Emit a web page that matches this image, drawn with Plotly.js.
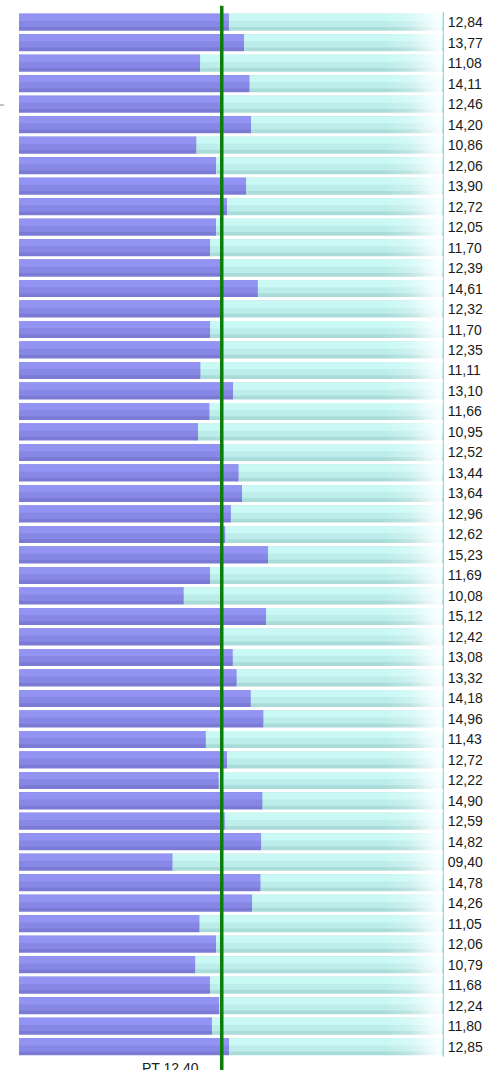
<!DOCTYPE html>
<html>
<head>
<meta charset="utf-8">
<script src="https://cdn.plot.ly/plotly-3.0.1.min.js"></script>
<style>
  html, body { margin: 0; padding: 0; background: #ffffff; }
  #chart { width: 486px; height: 1070px; }
</style>
</head>
<body>
<div id="chart"></div>
<script>
// ---- data ----
const values = [12.84, 13.77, 11.08, 14.11, 12.46, 14.20, 10.86, 12.06, 13.90, 12.72,
                12.05, 11.70, 12.39, 14.61, 12.32, 11.70, 12.35, 11.11, 13.10, 11.66,
                10.95, 12.52, 13.44, 13.64, 12.96, 12.62, 15.23, 11.69, 10.08, 15.12,
                12.42, 13.08, 13.32, 14.18, 14.96, 11.43, 12.72, 12.22, 14.90, 12.59,
                14.82, 9.40, 14.78, 14.26, 11.05, 12.06, 10.79, 11.68, 12.24, 11.80,
                12.85];
const tickLabels = ["12,84", "13,77", "11,08", "14,11", "12,46", "14,20", "10,86", "12,06", "13,90", "12,72",
                    "12,05", "11,70", "12,39", "14,61", "12,32", "11,70", "12,35", "11,11", "13,10", "11,66",
                    "10,95", "12,52", "13,44", "13,64", "12,96", "12,62", "15,23", "11,69", "10,08", "15,12",
                    "12,42", "13,08", "13,32", "14,18", "14,96", "11,43", "12,72", "12,22", "14,90", "12,59",
                    "14,82", "09,40", "14,78", "14,26", "11,05", "12,06", "10,79", "11,68", "12,24", "11,80",
                    "12,85"];
const target = 12.40;
const targetLabel = "PT 12,40";
const scaleMax = 25.93;
const fadeStart = 22.3;

// ---- derived ----
const rows = values.map((_, i) => i);
const remainder = values.map(v => scaleMax - v);

const BW = 0.83;
const traces = [];
function bandBars(x, base, colors) {
  // colors from bottom (darkest, full width) to top (lightest, narrowest)
  const fr = [1.0, 0.78, 0.42];
  colors.forEach((c, k) => {
    traces.push({type: 'bar', orientation: 'h', y: rows, x: x, base: base,
      width: BW * fr[k], offset: -BW / 2, marker: {color: c, line: {width: 0}},
      hoverinfo: 'skip', showlegend: false});
  });
}
bandBars(values, 0, ['#7b7bd6', '#8787e6', '#9393f3']);
bandBars(remainder, values, ['#a9dcd9', '#bcedea', '#c9f8f5']);

const fadeSvg = "<svg xmlns='http://www.w3.org/2000/svg' width='200' height='100' viewBox='0 0 200 100' preserveAspectRatio='none'>" +
  "<defs><linearGradient id='g' x1='0' y1='0' x2='1' y2='0'>" +
  "<stop offset='0' stop-color='#ffffff' stop-opacity='0'/>" +
  "<stop offset='0.45' stop-color='#ffffff' stop-opacity='0.25'/>" +
  "<stop offset='0.8' stop-color='#ffffff' stop-opacity='0.75'/>" +
  "<stop offset='1' stop-color='#ffffff' stop-opacity='0.97'/>" +
  "</linearGradient></defs><rect width='200' height='100' fill='url(#g)'/></svg>";

const layout = {
  width: 486, height: 1070,
  margin: {l: 19, r: 43, t: 11.5, b: 13, pad: 0},
  paper_bgcolor: '#ffffff', plot_bgcolor: '#ffffff',
  barmode: 'overlay',
  showlegend: false,
  xaxis: {range: [0, scaleMax], showgrid: false, zeroline: false, showticklabels: false,
          ticks: '', showline: false, fixedrange: true},
  yaxis: {range: [rows.length - 0.5, -0.5], side: 'right', tickmode: 'array',
          tickvals: rows, ticktext: tickLabels, ticks: '', showgrid: false, zeroline: false,
          showline: true, linecolor: '#a9cfcf', linewidth: 1, ticklabelstandoff: 1,
          tickfont: {family: 'Liberation Sans, Arial, sans-serif', size: 14, color: '#1a1a1a'},
          fixedrange: true},
  images: [
    {source: 'data:image/svg+xml;charset=utf-8,' + encodeURIComponent(fadeSvg),
     xref: 'x', yref: 'paper', x: fadeStart, y: 1, sizex: scaleMax - fadeStart - 0.05, sizey: 1,
     xanchor: 'left', yanchor: 'top', sizing: 'stretch', layer: 'above'}
  ],
  shapes: [
    {type: 'line', xref: 'x', yref: 'paper', x0: target, x1: target, y0: -0.02, y1: 1.006,
     line: {color: '#0b7d0b', width: 3.5}, layer: 'above'},
    {type: 'line', xref: 'paper', yref: 'paper', x0: -0.045, x1: -0.035, y0: 0.911, y1: 0.911,
     line: {color: '#8a8a8a', width: 1}}
  ],
  annotations: [
    {xref: 'x', yref: 'paper', x: target, y: 0, xanchor: 'right', yanchor: 'top',
     xshift: -21, yshift: -1, text: targetLabel, showarrow: false,
     font: {family: 'Liberation Sans, Arial, sans-serif', size: 14, color: '#222222'}}
  ]
};

Plotly.newPlot('chart', traces, layout, {displayModeBar: false, staticPlot: true});
</script>
</body>
</html>
